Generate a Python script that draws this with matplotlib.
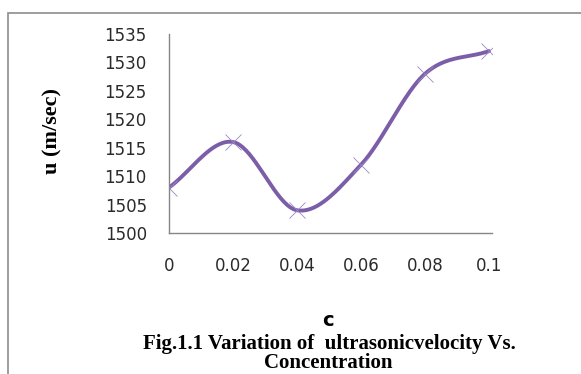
import numpy as np
import matplotlib.pyplot as plt
from matplotlib.patches import Rectangle

conc = [0, 0.02, 0.04, 0.06, 0.08, 0.1]
velocity = [1508, 1516, 1504, 1512, 1528, 1532]
y_ticks = [1500, 1505, 1510, 1515, 1520, 1525, 1530, 1535]
x_ticks = [0, 0.02, 0.04, 0.06, 0.08, 0.1]
x_ticklabels = ['0', '0.02', '0.04', '0.06', '0.08', '0.1']


def smooth_curve(x, y, n=40):
    # Catmull-Rom style smoothing through every point
    x = np.asarray(x, float)
    y = np.asarray(y, float)
    px = np.concatenate([[2 * x[0] - x[1]], x, [2 * x[-1] - x[-2]]])
    py = np.concatenate([[2 * y[0] - y[1]], y, [2 * y[-1] - y[-2]]])
    xs, ys = [], []
    t = np.linspace(0, 1, n)
    for i in range(1, len(px) - 2):
        for p, out in ((px, xs), (py, ys)):
            p0, p1, p2, p3 = p[i - 1], p[i], p[i + 1], p[i + 2]
            c1 = p1 + (p2 - p0) / 6
            c2 = p2 - (p3 - p1) / 6
            out.extend((1 - t) ** 3 * p1 + 3 * (1 - t) ** 2 * t * c1
                       + 3 * (1 - t) * t ** 2 * c2 + t ** 3 * p2)
    return np.array(xs), np.array(ys)


fig = plt.figure(figsize=(5.81, 3.74), dpi=100)
fig.patches.append(Rectangle((8 / 581, -0.1), 1.2, 1 - 13 / 374 + 0.1,
                             transform=fig.transFigure, fill=False,
                             edgecolor='#8c8c8c', linewidth=1.2))

ax = fig.add_axes([169 / 581, 1 - 233 / 374, (492 - 169) / 581, (233 - 34) / 374])
sx, sy = smooth_curve(conc, velocity)
ax.plot(sx, sy, color='#7b5ea7', linewidth=2.8, solid_capstyle='round')
ax.plot(conc, velocity, linestyle='none', marker='x', markersize=12,
        markeredgewidth=0.6, color='#9a86c4')

ax.set_xlim(0, 0.1 * 323 / 320)
ax.set_ylim(1500, 1535)
ax.set_xticks(x_ticks)
ax.set_xticklabels(x_ticklabels)
ax.set_yticks(y_ticks)
for s in ['top', 'right']:
    ax.spines[s].set_visible(False)
for s in ['left', 'bottom']:
    ax.spines[s].set_color('#868686')
    ax.spines[s].set_linewidth(1.0)
ax.tick_params(length=0, labelsize=12, colors='#2a2a2a')
ax.tick_params(axis='x', pad=17)
ax.tick_params(axis='y', pad=16)

fig.text(52 / 581, 1 - 131 / 374, 'u (m/sec)', rotation=90, ha='center', va='center',
         family='Liberation Serif', fontweight='bold', fontsize=16)
fig.text(328 / 581, 1 - 321 / 374, 'c', ha='center', va='center',
         family='DejaVu Sans', fontweight='bold', fontsize=14)
fig.text(329 / 581, 1 - 344 / 374, 'Fig.1.1 Variation of  ultrasonicvelocity Vs.',
         ha='center', va='center', family='Liberation Serif', fontweight='bold', fontsize=15)
fig.text(328 / 581, 1 - 363 / 374, 'Concentration', ha='center', va='center',
         family='Liberation Serif', fontweight='bold', fontsize=15)

fig.savefig('out.png', dpi=100)
